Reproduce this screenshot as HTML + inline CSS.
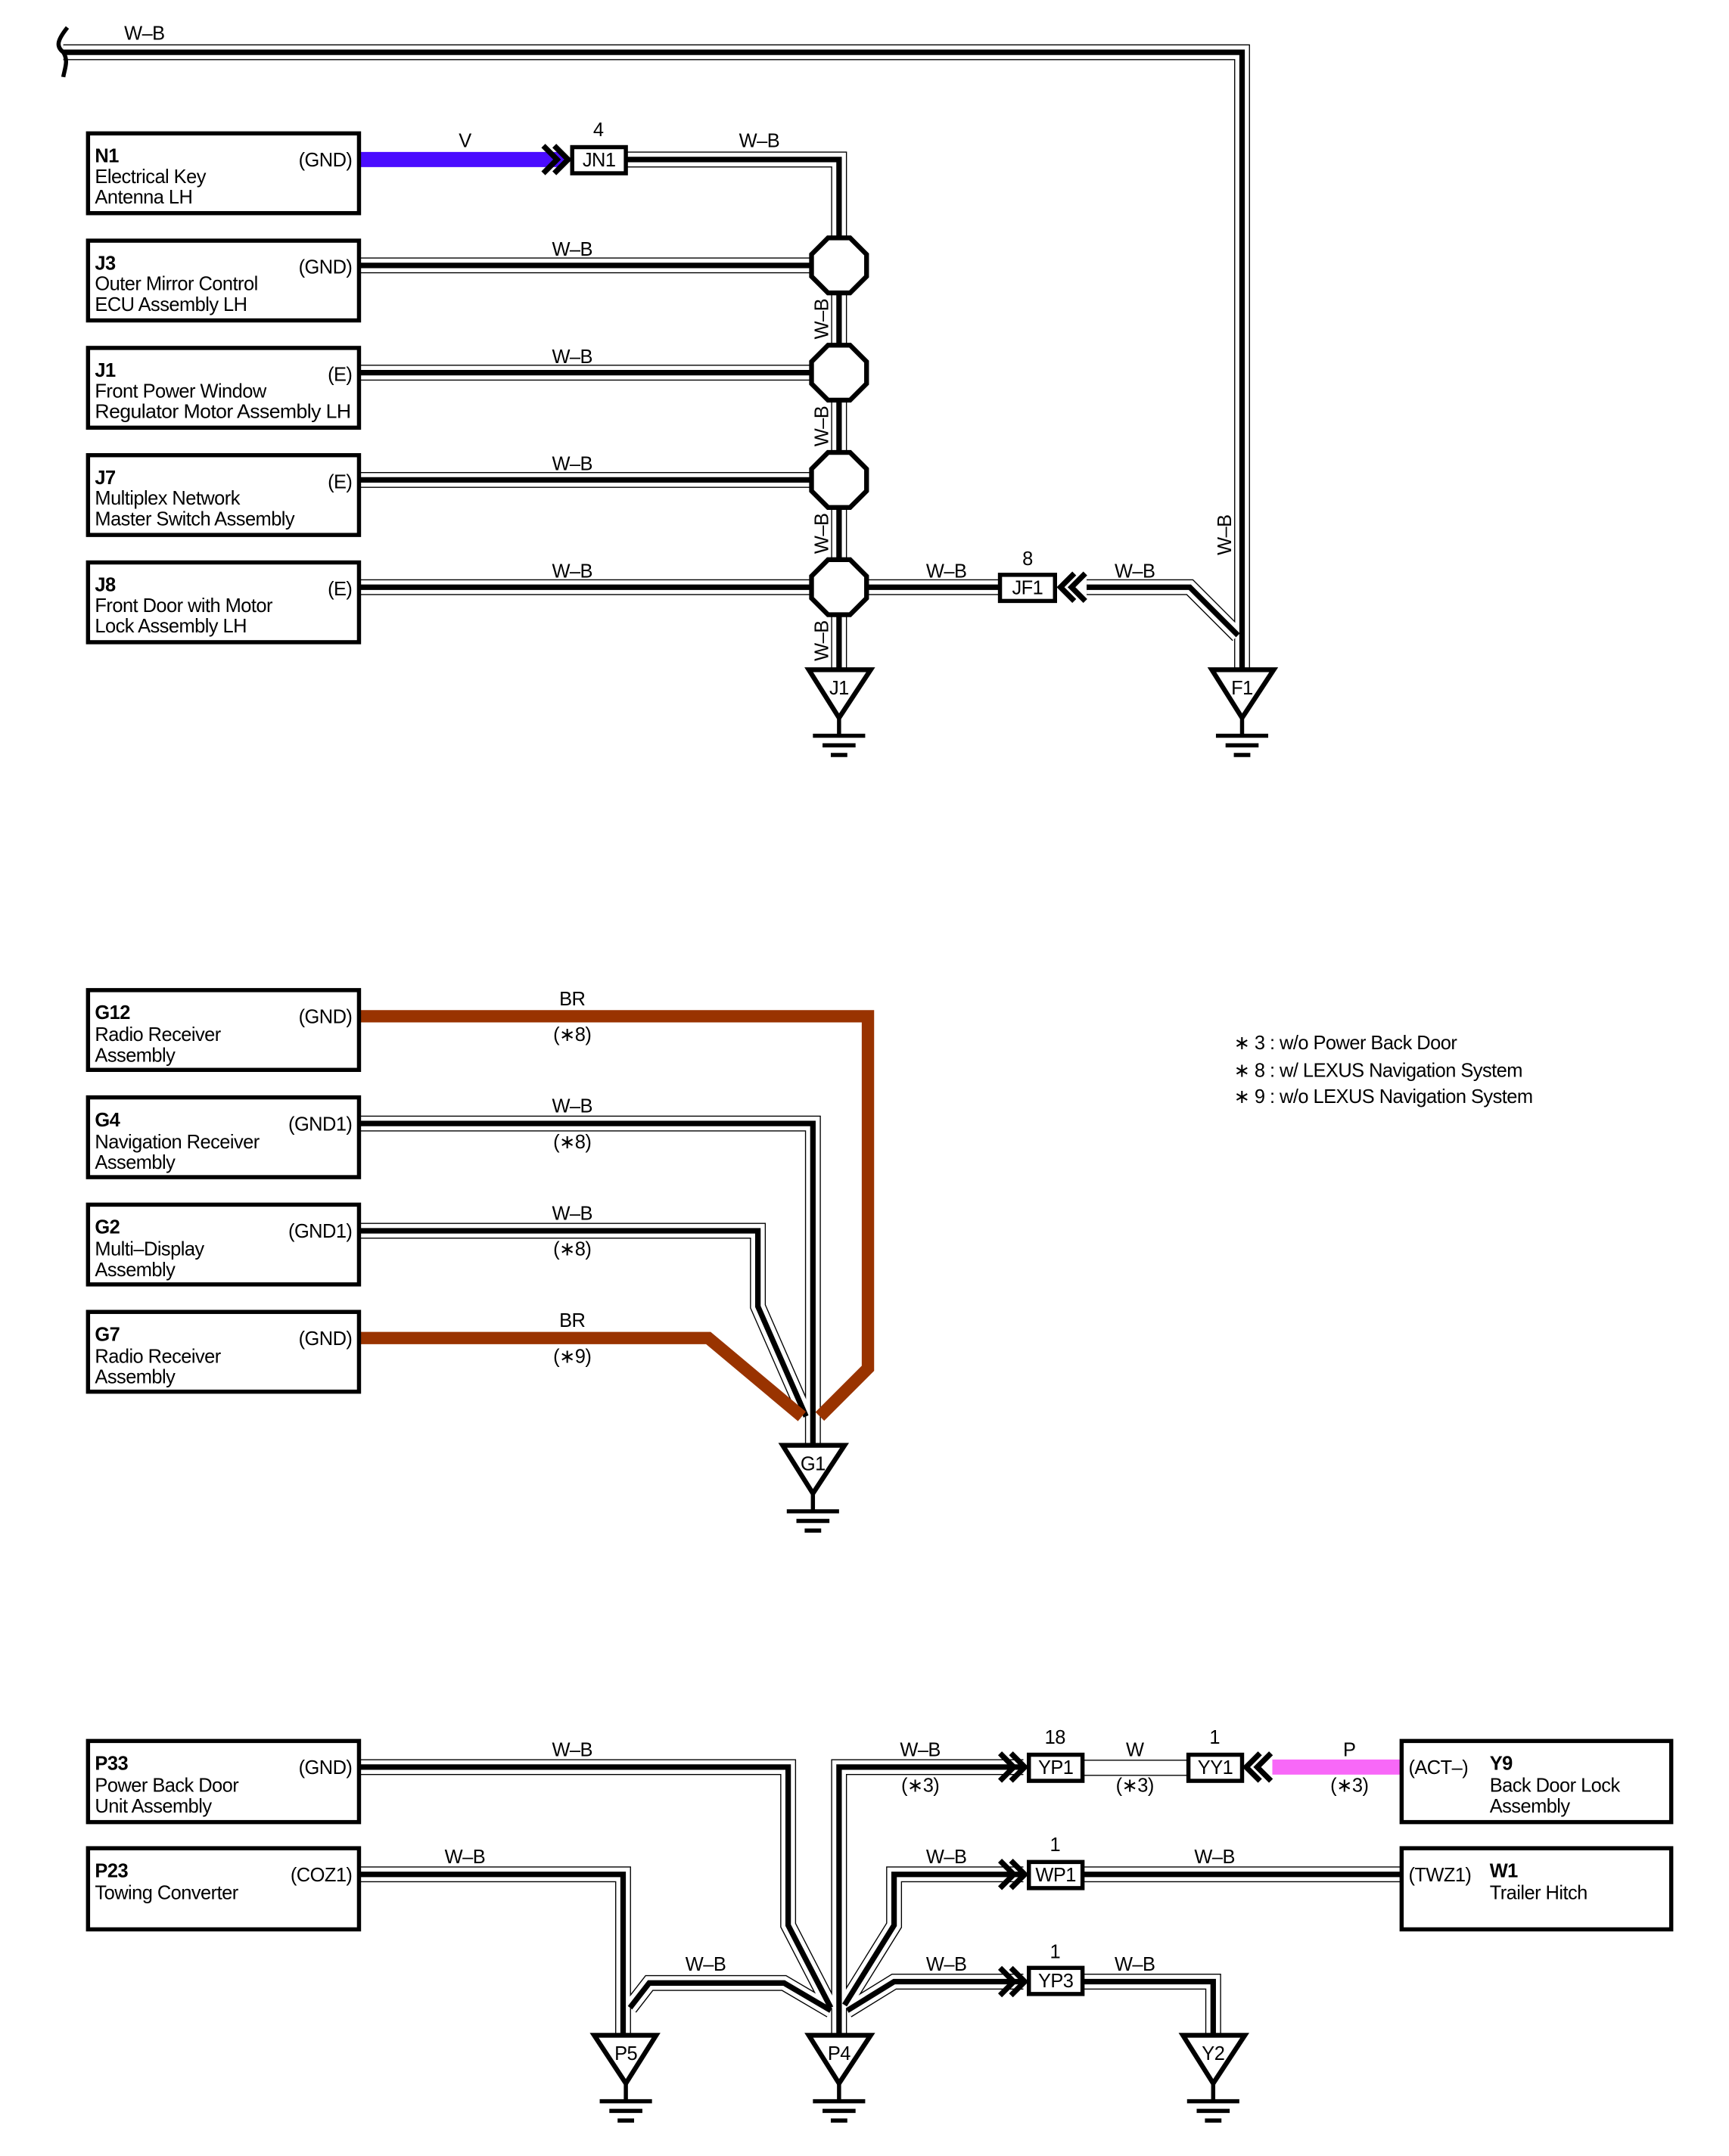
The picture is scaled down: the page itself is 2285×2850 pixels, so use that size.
<!DOCTYPE html>
<html><head><meta charset="utf-8"><style>
html,body{margin:0;padding:0;background:#fff}
svg{display:block}
text{font-family:"Liberation Sans",Arial,sans-serif;font-size:14px;fill:#000;letter-spacing:-0.3px}
.b{font-weight:bold}
.box{fill:#fff;stroke:#000;stroke-width:3}
.o1{fill:none;stroke:#000;stroke-width:11.5;stroke-linejoin:miter}
.o2{fill:none;stroke:#fff;stroke-width:10;stroke-linejoin:miter}
.o3{fill:none;stroke:#000;stroke-width:4;stroke-linejoin:miter}
.ch{fill:none;stroke:#000;stroke-width:4}
.gt{fill:#fff;stroke:#000;stroke-width:3.5;stroke-linejoin:miter}
</style></head><body>
<svg width="2285" height="2850" viewBox="0 0 1257 1567.8" preserveAspectRatio="none" xmlns="http://www.w3.org/2000/svg">
<defs>
<path id="w0" d="M46 38 H903 V487"/>
<path id="w1" d="M455 116 H610 V487"/>
<path id="w2" d="M261 193 H610"/>
<path id="w3" d="M261 271 H610"/>
<path id="w4" d="M261 349 H610"/>
<path id="w5" d="M261 427 H727"/>
<path id="w6" d="M790 427 H865 L900 462"/>
<path id="g4" d="M261 817 H591 V1051"/>
<path id="g2" d="M261 895 H551 V950 L586 1030"/>
<path id="p33" d="M261 1285 H573 V1400 L604 1460"/>
<path id="p23" d="M261 1363 H453 V1480"/>
<path id="p5" d="M458 1460 L472 1442 H570 L604 1462"/>
<path id="p4" d="M610 1480 V1285 H744"/>
<path id="wp" d="M614 1458 L650 1400 V1363 H744"/>
<path id="wp2" d="M787 1363 H1019"/>
<path id="yp3" d="M616 1462 L650 1441 H744"/>
<path id="yp3b" d="M787 1441 H882 V1480"/>
</defs>

<g class="o1"><use href="#w0"/><use href="#w1"/><use href="#w2"/><use href="#w3"/><use href="#w4"/><use href="#w5"/><use href="#w6"/><use href="#g4"/><use href="#g2"/><use href="#p33"/><use href="#p23"/><use href="#p5"/><use href="#p4"/><use href="#wp"/><use href="#wp2"/><use href="#yp3"/><use href="#yp3b"/></g>
<g class="o2"><use href="#w0"/><use href="#w1"/><use href="#w2"/><use href="#w3"/><use href="#w4"/><use href="#w5"/><use href="#w6"/><use href="#g4"/><use href="#g2"/><use href="#p33"/><use href="#p23"/><use href="#p5"/><use href="#p4"/><use href="#wp"/><use href="#wp2"/><use href="#yp3"/><use href="#yp3b"/></g>
<g class="o3"><use href="#w0"/><use href="#w1"/><use href="#w2"/><use href="#w3"/><use href="#w4"/><use href="#w5"/><use href="#w6"/><use href="#g4"/><use href="#g2"/><use href="#p33"/><use href="#p23"/><use href="#p5"/><use href="#p4"/><use href="#wp"/><use href="#wp2"/><use href="#yp3"/><use href="#yp3b"/></g>

<path d="M787 1280 H864 M787 1291 H864" stroke="#000" stroke-width="0.8" fill="none"/>
<path d="M261 116 H410" stroke="#4a0cff" stroke-width="11" fill="none"/>
<path d="M925 1285 H1019" stroke="#f868f8" stroke-width="11" fill="none"/>
<path d="M261 739 H631 V995 L596 1030" stroke="#993300" stroke-width="9" fill="none"/>
<path d="M261 973 H515 L583 1030" stroke="#993300" stroke-width="9" fill="none"/>

<path d="M49 20 C41 30,41 34,46 38 C50 44,47 50,46 56" stroke="#000" stroke-width="3" fill="none"/>

<g class="gt">
<polygon points="602,173 618,173 630,185 630,201 618,213 602,213 590,201 590,185"/>
<polygon points="602,251 618,251 630,263 630,279 618,291 602,291 590,279 590,263"/>
<polygon points="602,329 618,329 630,341 630,357 618,369 602,369 590,357 590,341"/>
<polygon points="602,407 618,407 630,419 630,435 618,447 602,447 590,435 590,419"/>
</g>

<g class="box">
<rect x="416" y="107" width="39" height="19"/>
<rect x="727" y="418" width="40" height="19"/>
<rect x="748" y="1276" width="39" height="19"/>
<rect x="864" y="1276" width="39" height="19"/>
<rect x="748" y="1354" width="39" height="19"/>
<rect x="748" y="1431" width="39" height="19"/>
</g>
<text x="435.5" y="121" text-anchor="middle">JN1</text>
<text x="747" y="432" text-anchor="middle">JF1</text>
<text x="767.5" y="1290" text-anchor="middle">YP1</text>
<text x="883.5" y="1290" text-anchor="middle">YY1</text>
<text x="767.5" y="1368" text-anchor="middle">WP1</text>
<text x="767.5" y="1445" text-anchor="middle">YP3</text>

<g class="ch">
<path d="M395 106 L405 116 L395 126 M403 106 L413 116 L403 126"/>
<path d="M789 417 L779 427 L789 437 M781 417 L771 427 L781 437"/>
<path d="M727 1275 L737 1285 L727 1295 M735 1275 L745 1285 L735 1295"/>
<path d="M924 1275 L914 1285 L924 1295 M916 1275 L906 1285 L916 1295"/>
<path d="M727 1353 L737 1363 L727 1373 M735 1353 L745 1363 L735 1373"/>
<path d="M727 1431 L737 1441 L727 1451 M735 1431 L745 1441 L735 1451"/>
</g>

<g class="gt">
<polygon points="588,487 633,487 610,522"/>
<polygon points="881,487 926,487 903,522"/>
<polygon points="569,1051 614,1051 591,1086"/>
<polygon points="432,1480 477,1480 455,1515"/>
<polygon points="588,1480 633,1480 610,1515"/>
<polygon points="860,1480 905,1480 882,1515"/>
</g>
<g stroke="#000" stroke-width="3" fill="none">
<path d="M610 522 V535 M591 535 H629 M598 542 H622 M604 549 H616"/>
<path d="M903 522 V535 M884 535 H922 M891 542 H915 M897 549 H909"/>
<path d="M591 1086 V1099 M572 1099 H610 M579 1106 H603 M585 1113 H597"/>
<path d="M455 1515 V1528 M436 1528 H474 M443 1535 H467 M449 1542 H461"/>
<path d="M610 1515 V1528 M591 1528 H629 M598 1535 H622 M604 1542 H616"/>
<path d="M882 1515 V1528 M863 1528 H901 M870 1535 H894 M876 1542 H888"/>
</g>
<text x="610" y="505" text-anchor="middle">J1</text>
<text x="903" y="505" text-anchor="middle">F1</text>
<text x="591" y="1069" text-anchor="middle">G1</text>
<text x="455" y="1498" text-anchor="middle">P5</text>
<text x="610" y="1498" text-anchor="middle">P4</text>
<text x="882" y="1498" text-anchor="middle">Y2</text>

<g class="box">
<rect x="64" y="97" width="197" height="58"/>
<rect x="64" y="175" width="197" height="58"/>
<rect x="64" y="253" width="197" height="58"/>
<rect x="64" y="331" width="197" height="58"/>
<rect x="64" y="409" width="197" height="58"/>
<rect x="64" y="720" width="197" height="58"/>
<rect x="64" y="798" width="197" height="58"/>
<rect x="64" y="876" width="197" height="58"/>
<rect x="64" y="954" width="197" height="58"/>
<rect x="64" y="1266" width="197" height="59"/>
<rect x="64" y="1344" width="197" height="59"/>
<rect x="1019" y="1266" width="196" height="59"/>
<rect x="1019" y="1344" width="196" height="59"/>
</g>
<g>
<text x="69" y="118" class="b">N1</text><text x="69" y="133">Electrical Key</text><text x="69" y="148">Antenna LH</text><text x="256" y="121" text-anchor="end">(GND)</text>
<text x="69" y="196" class="b">J3</text><text x="69" y="211">Outer Mirror Control</text><text x="69" y="226">ECU Assembly LH</text><text x="256" y="199" text-anchor="end">(GND)</text>
<text x="69" y="274" class="b">J1</text><text x="69" y="289">Front Power Window</text><text x="69" y="304" textLength="186" lengthAdjust="spacingAndGlyphs">Regulator Motor Assembly LH</text><text x="256" y="277" text-anchor="end">(E)</text>
<text x="69" y="352" class="b">J7</text><text x="69" y="367">Multiplex Network</text><text x="69" y="382">Master Switch Assembly</text><text x="256" y="355" text-anchor="end">(E)</text>
<text x="69" y="430" class="b">J8</text><text x="69" y="445">Front Door with Motor</text><text x="69" y="460">Lock Assembly LH</text><text x="256" y="433" text-anchor="end">(E)</text>
<text x="69" y="741" class="b">G12</text><text x="69" y="757">Radio Receiver</text><text x="69" y="772">Assembly</text><text x="256" y="744" text-anchor="end">(GND)</text>
<text x="69" y="819" class="b">G4</text><text x="69" y="835">Navigation Receiver</text><text x="69" y="850">Assembly</text><text x="256" y="822" text-anchor="end">(GND1)</text>
<text x="69" y="897" class="b">G2</text><text x="69" y="913">Multi–Display</text><text x="69" y="928">Assembly</text><text x="256" y="900" text-anchor="end">(GND1)</text>
<text x="69" y="975" class="b">G7</text><text x="69" y="991">Radio Receiver</text><text x="69" y="1006">Assembly</text><text x="256" y="978" text-anchor="end">(GND)</text>
<text x="69" y="1287" class="b">P33</text><text x="69" y="1303">Power Back Door</text><text x="69" y="1318">Unit Assembly</text><text x="256" y="1290" text-anchor="end">(GND)</text>
<text x="69" y="1365" class="b">P23</text><text x="69" y="1381">Towing Converter</text><text x="256" y="1368" text-anchor="end">(COZ1)</text>
<text x="1083" y="1287" class="b">Y9</text><text x="1083" y="1303">Back Door Lock</text><text x="1083" y="1318">Assembly</text><text x="1024" y="1290">(ACT–)</text>
<text x="1083" y="1365" class="b">W1</text><text x="1083" y="1381">Trailer Hitch</text><text x="1024" y="1368">(TWZ1)</text>
</g>

<g text-anchor="middle">
<text x="105" y="29">W–B</text>
<text x="338" y="107">V</text>
<text x="435" y="99">4</text>
<text x="552" y="107">W–B</text>
<text x="416" y="186">W–B</text>
<text x="416" y="264">W–B</text>
<text x="416" y="342">W–B</text>
<text x="416" y="420">W–B</text>
<text x="688" y="420">W–B</text>
<text x="747" y="411">8</text>
<text x="825" y="420">W–B</text>
<text x="416" y="731">BR</text><text x="416" y="757">(∗8)</text>
<text x="416" y="809">W–B</text><text x="416" y="835">(∗8)</text>
<text x="416" y="887">W–B</text><text x="416" y="913">(∗8)</text>
<text x="416" y="965">BR</text><text x="416" y="991">(∗9)</text>
<text x="416" y="1277">W–B</text>
<text x="338" y="1355">W–B</text>
<text x="513" y="1433">W–B</text>
<text x="669" y="1277">W–B</text><text x="669" y="1303">(∗3)</text>
<text x="767" y="1268">18</text>
<text x="825" y="1277">W</text><text x="825" y="1303">(∗3)</text>
<text x="883" y="1268">1</text>
<text x="981" y="1277">P</text><text x="981" y="1303">(∗3)</text>
<text x="688" y="1355">W–B</text>
<text x="767" y="1346">1</text>
<text x="883" y="1355">W–B</text>
<text x="688" y="1433">W–B</text>
<text x="767" y="1424">1</text>
<text x="825" y="1433">W–B</text>
</g>
<g>
<text transform="translate(602,232) rotate(-90)" text-anchor="middle">W–B</text>
<text transform="translate(602,310) rotate(-90)" text-anchor="middle">W–B</text>
<text transform="translate(602,388) rotate(-90)" text-anchor="middle">W–B</text>
<text transform="translate(602,466) rotate(-90)" text-anchor="middle">W–B</text>
<text transform="translate(895,389) rotate(-90)" text-anchor="middle">W–B</text>
</g>

<text x="897" y="763">∗ 3 : w/o Power Back Door</text>
<text x="897" y="783">∗ 8 : w/ LEXUS Navigation System</text>
<text x="897" y="802">∗ 9 : w/o LEXUS Navigation System</text>
</svg>
</body></html>
